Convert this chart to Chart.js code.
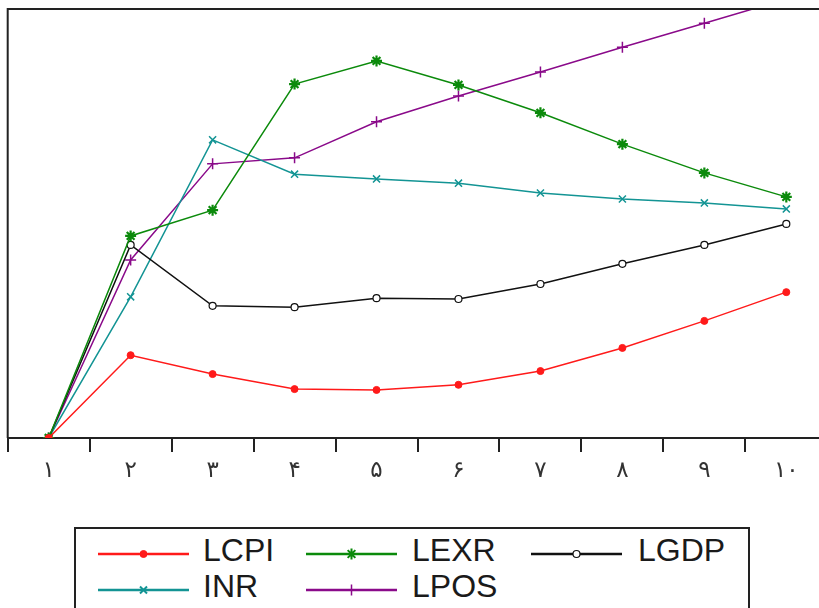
<!DOCTYPE html>
<html>
<head>
<meta charset="utf-8">
<script src="https://cdn.jsdelivr.net/npm/chart.js@4/dist/chart.umd.min.js"></script>
<style>
  html, body { margin:0; padding:0; background:#fff; overflow:hidden; width:819px; height:608px; }
  #wrap { position:absolute; left:0; top:0; width:835px; height:490px; }
  #c { display:block; width:835px; height:490px; max-width:none; }
  #legend { position:absolute; left:74px; top:527px; width:672px; height:120px; border:2px solid #222; box-sizing:content-box; }
  .item { position:absolute; height:36px; }
  .item svg { position:absolute; left:0; top:0; }
  .item span { position:absolute; font-family:"Liberation Sans", Arial, sans-serif; font-size:32px; color:#1a1a1a; line-height:36px; white-space:nowrap; }
</style>
</head>
<body>
<div id="wrap"><canvas id="c" width="835" height="490"></canvas></div>
<div id="legend"></div>
<script>
const categories = ["۱","۲","۳","۴","۵","۶","۷","۸","۹","۱۰"];
const LCPI = [0, 19.3, 14.9, 11.4, 11.2, 12.4, 15.6, 21.0, 27.3, 34.0];
const LEXR = [0, 47.1, 53.1, 82.5, 87.9, 82.3, 75.8, 68.5, 61.8, 56.2];
const LGDP = [0, 45.0, 30.8, 30.5, 32.6, 32.4, 35.9, 40.6, 45.0, 49.9];
const INR  = [0, 32.9, 69.5, 61.5, 60.4, 59.4, 57.1, 55.7, 54.8, 53.4];
const LPOS = [0, 41.5, 63.9, 65.3, 73.7, 79.7, 85.3, 91.1, 96.7, 102.3];

const series = [
  {label:"LCPI", data:LCPI, color:"#ff1a1a", style:"circle", radius:3.5, fill:"#ff1a1a", bw:1},
  {label:"LEXR", data:LEXR, color:"#0b8a0b", style:"star", radius:5.5, fill:"#0b8a0b", bw:2.2},
  {label:"LGDP", data:LGDP, color:"#111111", style:"circle", radius:3.5, fill:"#ffffff", bw:1.2},
  {label:"INR",  data:INR,  color:"#139494", style:"crossRot", radius:5, fill:"#139494", bw:1.5},
  {label:"LPOS", data:LPOS, color:"#8a0a8a", style:"cross", radius:5.5, fill:"#8a0a8a", bw:1.5}
];

const framePlugin = {
  id: 'frame',
  afterDraw(chart) {
    const {ctx, chartArea:a} = chart;
    ctx.save();
    ctx.strokeStyle = '#222';
    ctx.lineWidth = 2;
    ctx.beginPath();
    ctx.moveTo(a.left, a.bottom);
    ctx.lineTo(a.left, a.top);
    ctx.lineTo(a.right + 10, a.top);
    ctx.stroke();
    ctx.restore();
  }
};

new Chart(document.getElementById('c'), {
  type: 'line',
  data: {
    labels: categories,
    datasets: series.map(s => ({
      label: s.label,
      data: s.data,
      borderColor: s.color,
      backgroundColor: s.fill,
      borderWidth: 1.5,
      pointStyle: s.style,
      pointRadius: s.radius,
      pointBorderColor: s.color,
      pointBackgroundColor: s.fill,
      pointBorderWidth: s.bw,
      tension: 0,
      fill: false
    }))
  },
  options: {
    responsive: false,
    animation: false,
    devicePixelRatio: 1,
    layout: { padding: { left: 7, top: 9, right: 0, bottom: 0 } },
    plugins: { legend: { display: false }, tooltip: { enabled: false } },
    scales: {
      x: {
        type: 'category',
        offset: true,
        grid: { offset: true, drawOnChartArea: false, drawTicks: true, tickLength: 14, color: '#222', lineWidth: 2 },
        border: { display: true, color: '#222', width: 2 },
        ticks: { font: { family: "DejaVu Sans, 'Noto Sans', sans-serif", size: 23 }, color: '#333', padding: 5, maxRotation: 0, autoSkip: false },
        afterFit(scale) { scale.height = 52; }
      },
      y: {
        display: false,
        min: 0,
        max: 100
      }
    }
  },
  plugins: [framePlugin]
});

// Legend (HTML, real text)
const legendPos = [
  {x: 22,  y: 6},
  {x: 230, y: 6},
  {x: 455, y: 6},
  {x: 22,  y: 42},
  {x: 230, y: 42}
];
const textOffsets = [105, 106, 107, 105, 106];
const legend = document.getElementById('legend');
function markerSvg(s, cx, cy) {
  const r = s.radius;
  if (s.style === 'circle') {
    return `<circle cx="${cx}" cy="${cy}" r="${r}" fill="${s.fill}" stroke="${s.color}" stroke-width="${s.bw}"/>`;
  }
  if (s.style === 'cross') {
    return `<path d="M${cx-r} ${cy}H${cx+r}M${cx} ${cy-r}V${cy+r}" stroke="${s.color}" stroke-width="${s.bw}"/>`;
  }
  if (s.style === 'crossRot') {
    const d = r*0.7;
    return `<path d="M${cx-d} ${cy-d}L${cx+d} ${cy+d}M${cx+d} ${cy-d}L${cx-d} ${cy+d}" stroke="${s.color}" stroke-width="2"/>`;
  }
  if (s.style === 'star') {
    const d = r*0.7;
    return `<path d="M${cx-r} ${cy}H${cx+r}M${cx} ${cy-r}V${cy+r}M${cx-d} ${cy-d}L${cx+d} ${cy+d}M${cx+d} ${cy-d}L${cx-d} ${cy+d}" stroke="${s.color}" stroke-width="2"/>`;
  }
  return '';
}
series.forEach((s, i) => {
  const p = legendPos[i];
  const div = document.createElement('div');
  div.className = 'item';
  div.style.left = p.x + 'px';
  div.style.top = p.y + 'px';
  div.innerHTML = `<svg width="100" height="36"><line x1="0" y1="19" x2="91" y2="19" stroke="${s.color}" stroke-width="2.5"/>${markerSvg(s, 45.5, 19)}</svg><span style="left:${textOffsets[i]}px;top:-3px">${s.label}</span>`;
  legend.appendChild(div);
});
</script>
</body>
</html>
